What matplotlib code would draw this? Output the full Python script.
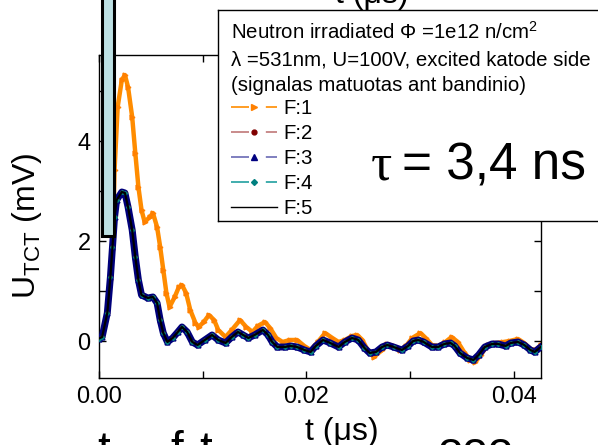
import matplotlib
matplotlib.use("Agg")
import matplotlib.pyplot as plt
from matplotlib.lines import Line2D
from matplotlib.patches import Rectangle

plt.rcParams["font.family"] = ["Liberation Sans", "DejaVu Sans"]
plt.rcParams["mathtext.fontset"] = "custom"
plt.rcParams["mathtext.rm"] = "Liberation Sans"
plt.rcParams["mathtext.default"] = "regular"

# F:1 (orange)
t_f1 = [0.0000, 0.0003, 0.0008, 0.0011, 0.0013, 0.0014, 0.0015, 0.0018, 0.0022, 0.0025,
        0.0028, 0.0032, 0.0035, 0.0038, 0.0041, 0.0044, 0.0049, 0.0052, 0.0056, 0.0059,
        0.0062, 0.0065, 0.0068, 0.0073, 0.0077, 0.0080, 0.0084, 0.0088, 0.0093, 0.0096,
        0.0101, 0.0106, 0.0111, 0.0115, 0.0122, 0.0128, 0.0136, 0.0142, 0.0148, 0.0153,
        0.0160, 0.0165, 0.0171, 0.0177, 0.0184, 0.0191, 0.0198, 0.0204, 0.0211, 0.0218,
        0.0225, 0.0231, 0.0237, 0.0244, 0.0249, 0.0254, 0.0259, 0.0265, 0.0273, 0.0278,
        0.0284, 0.0290, 0.0296, 0.0302, 0.0310, 0.0315, 0.0321, 0.0327, 0.0334, 0.0340,
        0.0346, 0.0352, 0.0358, 0.0363, 0.0368, 0.0375, 0.0382, 0.0390, 0.0396, 0.0404,
        0.0410, 0.0416, 0.0421, 0.0426]
u_f1 = [0.05, 0.08, 0.56, 1.22, 1.82, 2.52, 3.42, 4.68, 5.22, 5.32,
        5.08, 4.48, 3.76, 3.08, 2.62, 2.38, 2.48, 2.56, 2.28, 1.88,
        1.42, 0.96, 0.68, 0.88, 1.08, 1.12, 0.96, 0.62, 0.36, 0.28,
        0.38, 0.52, 0.42, 0.22, 0.08, 0.22, 0.42, 0.28, 0.18, 0.30,
        0.38, 0.26, 0.06, -0.02, 0.02, 0.02, -0.10, -0.18, -0.02, 0.16,
        0.06, -0.02, 0.02, 0.10, 0.12, 0.02, -0.18, -0.32, -0.18, -0.06,
        -0.10, -0.18, -0.10, 0.06, 0.16, 0.06, -0.08, -0.10, -0.02, 0.08,
        -0.02, -0.22, -0.38, -0.42, -0.28, -0.08, -0.04, -0.02, 0.00, 0.04,
        -0.04, -0.16, -0.18, -0.08]

# F:2 .. F:5 lie on top of each other
t_rest = [0.0000, 0.0003, 0.0008, 0.0011, 0.0013, 0.0015, 0.0017, 0.0022, 0.0025, 0.0028,
          0.0032, 0.0035, 0.0038, 0.0041, 0.0047, 0.0052, 0.0056, 0.0059, 0.0062, 0.0066,
          0.0071, 0.0076, 0.0080, 0.0085, 0.0090, 0.0095, 0.0102, 0.0109, 0.0115, 0.0122,
          0.0128, 0.0134, 0.0139, 0.0144, 0.0150, 0.0158, 0.0163, 0.0167, 0.0172, 0.0179,
          0.0185, 0.0191, 0.0198, 0.0204, 0.0209, 0.0216, 0.0223, 0.0231, 0.0237, 0.0244,
          0.0250, 0.0256, 0.0261, 0.0267, 0.0273, 0.0278, 0.0284, 0.0292, 0.0298, 0.0303,
          0.0308, 0.0313, 0.0321, 0.0327, 0.0333, 0.0339, 0.0343, 0.0348, 0.0355, 0.0361,
          0.0366, 0.0372, 0.0379, 0.0385, 0.0392, 0.0397, 0.0404, 0.0410, 0.0416, 0.0420,
          0.0426]
u_rest = [0.05, 0.08, 0.56, 1.28, 1.88, 2.48, 2.82, 2.98, 2.96, 2.68,
          2.22, 1.68, 1.22, 0.92, 0.86, 0.88, 0.76, 0.42, 0.16, -0.02,
          0.06, 0.18, 0.28, 0.18, -0.02, -0.08, 0.02, 0.12, 0.02, -0.04,
          0.08, 0.18, 0.12, 0.06, 0.12, 0.22, 0.12, -0.02, -0.12, -0.12,
          -0.10, -0.12, -0.18, -0.22, -0.10, 0.02, -0.04, -0.12, -0.02, 0.06,
          0.02, -0.14, -0.24, -0.22, -0.12, -0.08, -0.12, -0.18, -0.10, 0.00,
          0.02, -0.02, -0.12, -0.12, -0.06, -0.04, -0.10, -0.24, -0.34, -0.38,
          -0.28, -0.12, -0.06, -0.06, -0.10, -0.04, -0.02, -0.08, -0.18, -0.22,
          -0.12]

labels = ["F:1", "F:2", "F:3", "F:4", "F:5"]
header = ["Neutron irradiated \u03a6 =1e12 n/cm$^2$",
          "\u03bb =531nm, U=100V, excited katode side",
          "(signalas matuotas ant bandinio)"]

W, H = 598, 445
fig = plt.figure(figsize=(W / 100, H / 100), dpi=100)
ax = fig.add_axes([99 / W, 1 - 378 / H, 442 / W, 323 / H])

# F:1
ax.plot(t_f1, u_f1, color="#FF8C00", lw=3.2, zorder=2)
ax.plot(t_f1, u_f1, ls="none", marker=">", ms=3.5, color="#FF8000", zorder=2)
# F:2..F:5 band
ax.plot(t_rest, u_rest, color="#00007A", lw=5.0, zorder=3)
ax.plot(t_rest, u_rest, ls="none", marker="o", ms=2.5, color="#800000", zorder=3)
ax.plot(t_rest, u_rest, ls="none", marker="^", ms=3.5, color="#000080", zorder=3)
ax.plot(t_rest, u_rest, ls="none", marker="D", ms=2.0, color="#008080", zorder=3)
ax.plot(t_rest, u_rest, color="black", lw=1.6, zorder=4)

ax.set_xlim(0, 0.04262)
ax.set_ylim(-0.74, 5.72)
ax.set_xticks([0.00, 0.02, 0.04])
ax.set_xticklabels(["0.00", "0.02", "0.04"])
ax.set_xticks([0.01, 0.03], minor=True)
ax.set_yticks([0, 2, 4])
ax.set_yticks([1, 3, 5], minor=True)
ax.tick_params(which="both", direction="in", top=True, right=True, length=5, width=1)
ax.tick_params(which="major", labelsize=17, pad=6)
for s in ax.spines.values():
    s.set_linewidth(1.0)

ax.set_ylabel(r"U$_{\mathrm{TCT}}$ (mV)", fontsize=23)
ax.yaxis.set_label_coords(-0.125, 0.47)
ax.set_xlabel("t (\u03bcs)", fontsize=23)
ax.xaxis.set_label_coords(0.55, -0.12)

# legend box (runs off the right edge)
bx = fig.add_axes([218 / W, 1 - 221 / H, 440 / W, 211 / H], zorder=10)
bx.set_xlim(218, 658)
bx.set_ylim(221, 10)
bx.set_xticks([])
bx.set_yticks([])
for s in bx.spines.values():
    s.set_linewidth(1.0)
for i, line in enumerate(header):
    bx.text(231, 39 + 26 * i, line, fontsize=14.7, va="baseline", ha="left")

dash = (0, (10.8, 10.1))
handles = [
    Line2D([], [], color="#FF8C00", ls=dash, lw=1.2, marker=">", ms=4, mfc="#FF8000", mec="#FF8000"),
    Line2D([], [], color="#C07878", ls=dash, lw=1.2, marker="o", ms=3.5, mfc="#800000", mec="#800000"),
    Line2D([], [], color="#6A6AB4", ls=dash, lw=1.2, marker="^", ms=4, mfc="#000080", mec="#000080"),
    Line2D([], [], color="#20A0A0", ls=dash, lw=1.2, marker="D", ms=3, mfc="#008080", mec="#008080"),
    Line2D([], [], color="black", lw=1.0),
]
bx.legend(handles, labels, loc="upper left", bbox_to_anchor=(231, 99),
          bbox_transform=bx.transData, frameon=False, fontsize=14.7,
          numpoints=1, handlelength=2.25, handletextpad=0.3,
          labelspacing=0.30, borderpad=0, borderaxespad=0)

# tau annotation
bx.text(371, 180, "\u03c4", fontsize=38, family="Liberation Serif", va="baseline", ha="left")
bx.text(402, 180, "= 3,4 ns", fontsize=37, va="baseline", ha="left")

# light-blue bar from the slide, drawn over the axes
fig.add_artist(Rectangle((101.5 / W, 1 - 235.5 / H), 12 / W, 260 / H,
                         transform=fig.transFigure, facecolor="#BDE0E3",
                         edgecolor="black", lw=2.2, zorder=8))

# cut-off text from the surrounding slide
fig.text(372 / W, 1 - 3 / H, "t (\u03bcs)", fontsize=23, ha="center", va="baseline")
for x, s in [(104, "t"), (177, "f"), (206, "t"), (475, "ooo")]:
    fig.text(x / W, (H - 464) / H, s, fontsize=33, ha="center", va="baseline")

fig.savefig("out.png", dpi=100)
